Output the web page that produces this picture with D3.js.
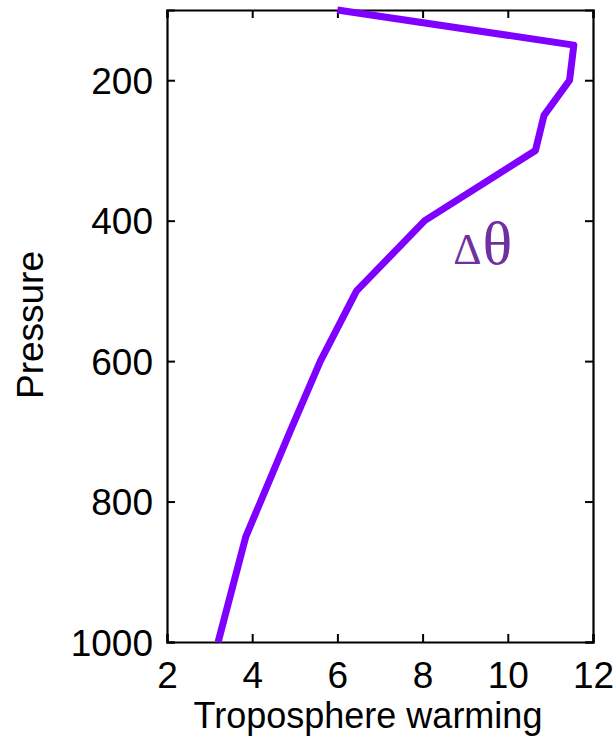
<!DOCTYPE html>
<html lang="en">
<head>
  <meta charset="UTF-8">
  <title>Troposphere warming profile</title>
  <style>
    body { margin: 0; background: #fff; }
    text { font-family: Arial, "Liberation Sans", sans-serif; fill: #000; }
  </style>
</head>
<body>
<script src="https://cdn.jsdelivr.net/npm/d3@7"></script>
<div id="d3_chart"></div>
<script>
    // DATA =======================================================================================
    const pressure = [100, 150, 200, 250, 300, 400, 500, 600, 700, 850, 1000];
    const warming  = [6.0, 11.55, 11.45, 10.85, 10.65, 8.05, 6.45, 5.6, 4.89, 3.85, 3.2];
    const xTicks = [2, 4, 6, 8, 10, 12];
    const yTicks = [200, 400, 600, 800, 1000];

    // PLOT AREA ==================================================================================
    const W = 613, H = 737;
    const margin = {top: 10, right: 20, bottom: 95, left: 167},
        width = 593 - margin.left,
        height = 642 - margin.top;

    const svg = d3.select("#d3_chart")
      .append("svg")
        .attr("width", W)
        .attr("height", H);

    const g = svg.append("g")
        .attr("transform", `translate(${margin.left},${margin.top})`);

    // SCALES =====================================================================================
    const x = d3.scaleLinear().domain([2, 12]).range([0, width]);
    const y = d3.scaleLinear().domain([100, 1000]).range([0, height]);

    const tick = 8;

    // axes: labelled bottom/left, inward ticks on all sides
    const axBottom = g.append("g")
        .attr("transform", `translate(0,${height})`)
        .call(d3.axisBottom(x).tickValues(xTicks).tickSize(-tick).tickPadding(19).tickFormat(d3.format("d")));
    const axLeft = g.append("g")
        .call(d3.axisLeft(y).tickValues(yTicks).tickSize(-tick).tickPadding(14).tickFormat(d3.format("d")));
    const axTop = g.append("g")
        .call(d3.axisTop(x).tickValues(xTicks).tickSize(-tick).tickFormat(""));
    const axRight = g.append("g")
        .attr("transform", `translate(${width},0)`)
        .call(d3.axisRight(y).tickValues(yTicks).tickSize(-tick).tickFormat(""));

    [axBottom, axLeft, axTop, axRight].forEach(a => {
      a.select(".domain").attr("stroke", "#000").attr("stroke-width", 2.2);
      a.selectAll(".tick line").attr("stroke", "#000").attr("stroke-width", 2);
      a.selectAll("text").style("font-size", "37px").attr("fill", "#000");
    });
    axLeft.selectAll("text").attr("dy", "0.36em");
    axBottom.selectAll("text").attr("dy", "0.72em");

    // LINE =======================================================================================
    const pts = pressure.map((p, i) => [warming[i], p]);
    g.append("path")
      .datum(pts)
      .attr("fill", "none")
      .attr("stroke", "#7f00ff")
      .attr("stroke-width", 7)
      .attr("stroke-linejoin", "round")
      .attr("d", d3.line().x(d => x(d[0])).y(d => y(d[1])));

    // annotation: small delta, big theta
    const lab = g.append("text")
      .attr("x", x(8.72))
      .attr("y", y(462))
      .style("font-family", "'Liberation Serif', 'Times New Roman', serif")
      .style("fill", "#7030a0");
    lab.append("tspan").style("font-size", "44px").text("Δ");
    lab.append("tspan").style("font-size", "62px").attr("dx", 1).text("θ");

    // AXIS LABELS ================================================================================
    svg.append("text")
      .attr("x", (167 + 593) / 2 - 12)
      .attr("y", 728)
      .attr("text-anchor", "middle")
      .style("font-size", "36px")
      .text("Troposphere warming");

    svg.append("text")
      .attr("transform", `translate(43,${325}) rotate(-90)`)
      .attr("text-anchor", "middle")
      .style("font-size", "37px")
      .text("Pressure");
</script>
</body>
</html>
